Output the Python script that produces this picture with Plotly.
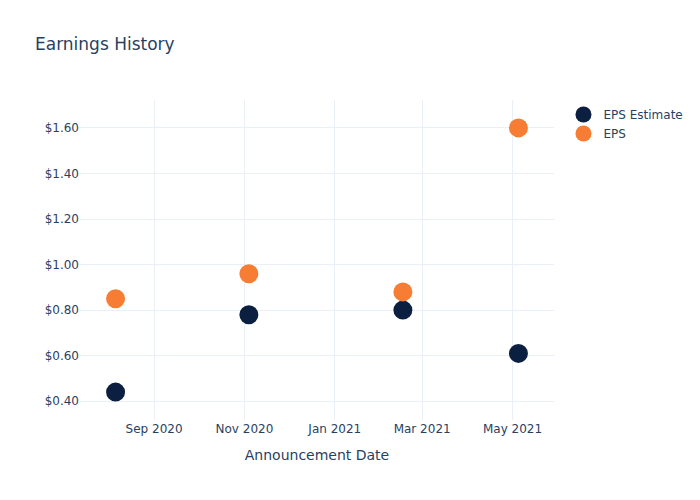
import plotly.graph_objects as go

dates = ["2020-08-06", "2020-11-04", "2021-02-16", "2021-05-05"]
eps_estimate = [0.44, 0.78, 0.80, 0.61]
eps_actual = [0.85, 0.96, 0.88, 1.60]

fig = go.Figure()
fig.add_trace(go.Scatter(x=dates, y=eps_estimate, mode="markers", name="EPS Estimate",
                         marker=dict(color="#0b1f41", size=19)))
fig.add_trace(go.Scatter(x=dates, y=eps_actual, mode="markers", name="EPS",
                         marker=dict(color="#f67d33", size=19)))
fig.update_layout(
    template="plotly_white",
    font=dict(family="DejaVu Sans"),
    title=dict(text="Earnings History"),
    width=700, height=500,
    xaxis=dict(title=dict(text="Announcement Date")),
    yaxis=dict(tickformat="$.2f"),
)
fig.write_html("out.html")
